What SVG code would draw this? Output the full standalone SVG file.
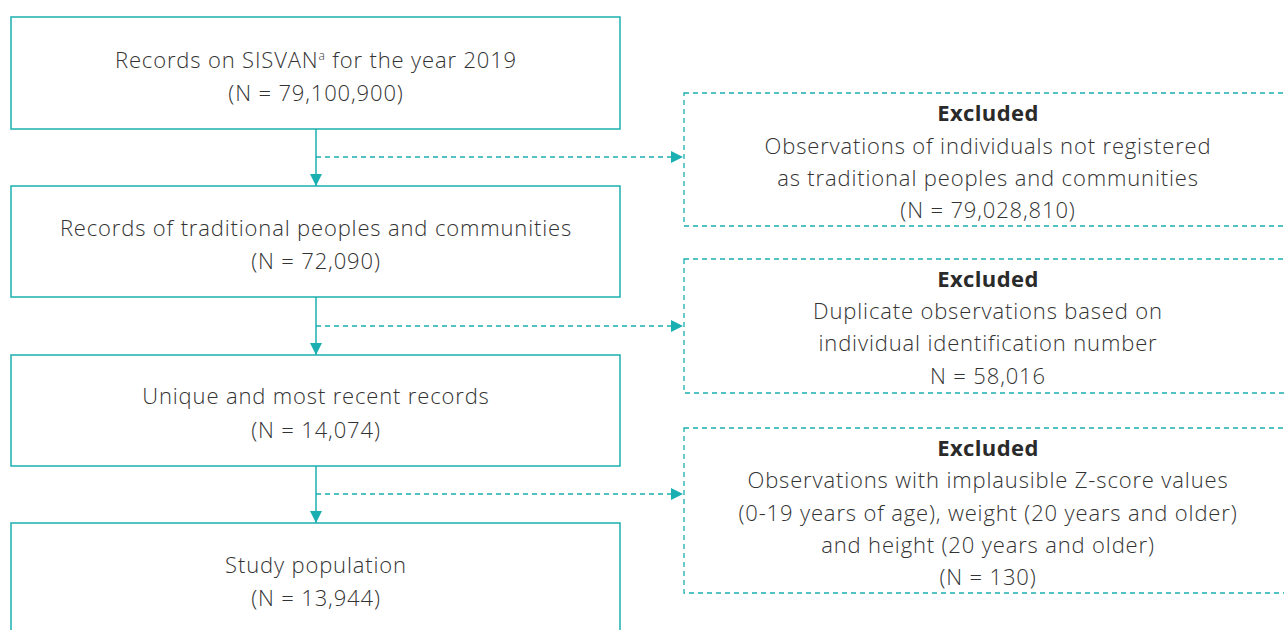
<svg xmlns="http://www.w3.org/2000/svg" width="1284" height="630" viewBox="0 0 1284 630">
  <style>
    .box { fill: #ffffff; stroke: #1aafb0; stroke-width: 1.5; }
    .excl { fill: #ffffff; stroke: #1aafb0; stroke-width: 1.3; stroke-dasharray: 5 4; }
    .flow { stroke: #1aafb0; stroke-width: 1.5; fill: none; }
    .side { stroke: #1aafb0; stroke-width: 1.3; fill: none; stroke-dasharray: 5 4; }
    text { font-family: "Open Sans", "Liberation Sans", sans-serif; font-size: 22px; font-weight: 300; letter-spacing: 0.85px; fill: #333333; text-anchor: middle; }
    .b { font-weight: 700; fill: #2a2a2a; letter-spacing: 0.4px; }
  </style>
  <defs>
    <marker id="head" viewBox="0 0 12 12" refX="12" refY="6" markerWidth="12" markerHeight="12" markerUnits="userSpaceOnUse" orient="auto">
      <path d="M0,0 L12,6 L0,12 Z" fill="#1aafb0"/>
    </marker>
  </defs>

  <rect width="1284" height="630" fill="#ffffff"/>

  <!-- connectors -->
  <g id="connectors">
    <line class="flow" x1="316" y1="129" x2="316" y2="186" marker-end="url(#head)"/>
    <line class="flow" x1="316" y1="297" x2="316" y2="355" marker-end="url(#head)"/>
    <line class="flow" x1="316" y1="466" x2="316" y2="523" marker-end="url(#head)"/>
    <line class="side" x1="316" y1="157" x2="683" y2="157" marker-end="url(#head)"/>
    <line class="side" x1="316" y1="326" x2="683" y2="326" marker-end="url(#head)"/>
    <line class="side" x1="316" y1="494" x2="683" y2="494" marker-end="url(#head)"/>
  </g>

  <!-- main flow -->
  <g id="records-2019">
    <rect class="box" x="11" y="17" width="609" height="112"/>
    <text x="316" y="68">Records on SISVAN<tspan font-size="12" dy="-8">a</tspan><tspan dy="8"> for the year 2019</tspan></text>
    <text x="316" y="101">(N = 79,100,900)</text>
  </g>

  <g id="traditional-records">
    <rect class="box" x="11" y="186" width="609" height="111"/>
    <text x="316" y="236">Records of traditional peoples and communities</text>
    <text x="316" y="269">(N = 72,090)</text>
  </g>

  <g id="unique-records">
    <rect class="box" x="11" y="355" width="609" height="111"/>
    <text x="316" y="404">Unique and most recent records</text>
    <text x="316" y="438">(N = 14,074)</text>
  </g>

  <g id="study-population">
    <rect class="box" x="11" y="523" width="609" height="130"/>
    <text x="316" y="573">Study population</text>
    <text x="316" y="606">(N = 13,944)</text>
  </g>

  <!-- exclusions -->
  <g id="excluded-not-registered">
    <rect class="excl" x="684" y="93" width="620" height="133"/>
    <text class="b" x="988" y="121">Excluded</text>
    <text x="988" y="154">Observations of individuals not registered</text>
    <text x="988" y="186">as traditional peoples and communities</text>
    <text x="988" y="218">(N = 79,028,810)</text>
  </g>

  <g id="excluded-duplicates">
    <rect class="excl" x="684" y="259" width="620" height="134"/>
    <text class="b" x="988" y="287">Excluded</text>
    <text x="988" y="319">Duplicate observations based on</text>
    <text x="988" y="351">individual identification number</text>
    <text x="988" y="384">N = 58,016</text>
  </g>

  <g id="excluded-implausible">
    <rect class="excl" x="684" y="428" width="620" height="165"/>
    <text class="b" x="988" y="456">Excluded</text>
    <text x="988" y="488">Observations with implausible Z-score values</text>
    <text x="988" y="521">(0-19 years of age), weight (20 years and older)</text>
    <text x="988" y="553">and height (20 years and older)</text>
    <text x="988" y="585">(N = 130)</text>
  </g>
</svg>
